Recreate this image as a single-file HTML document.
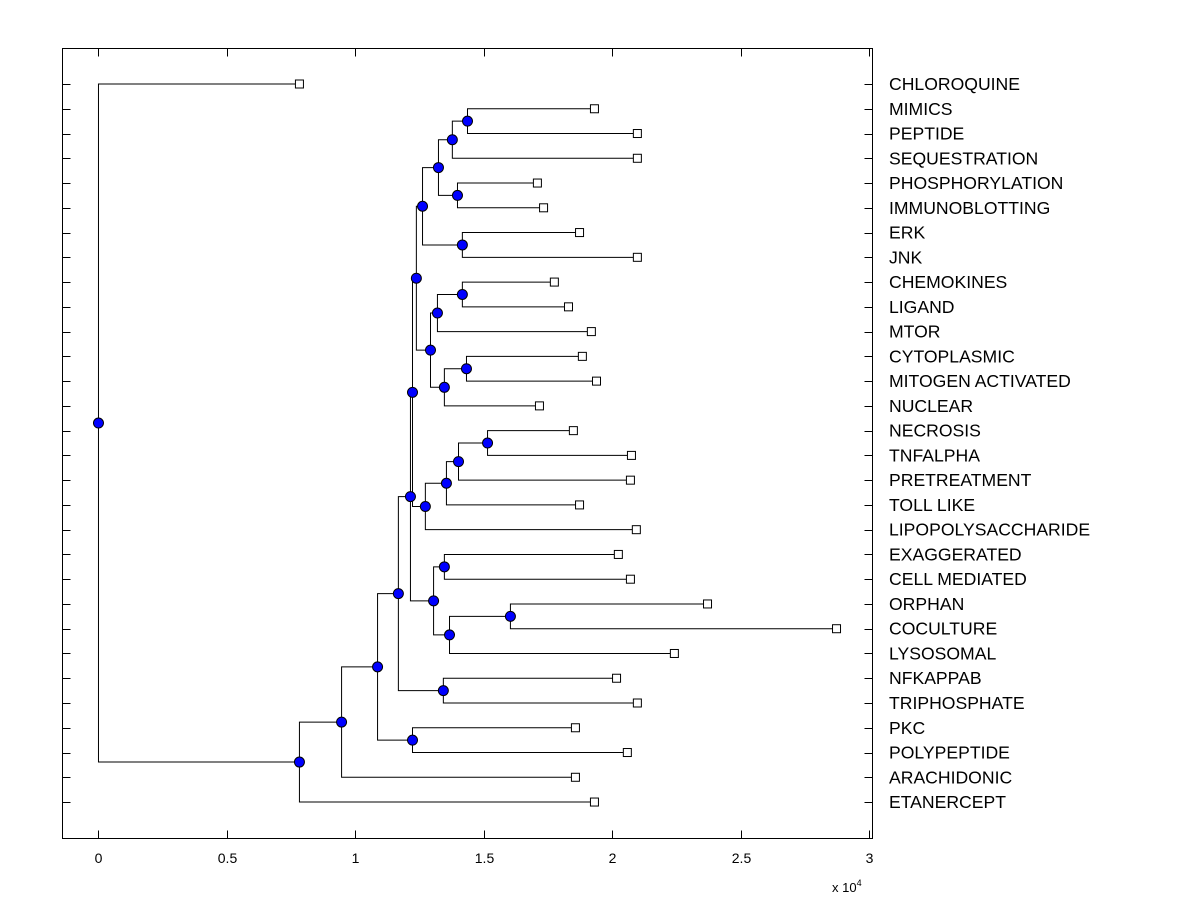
<!DOCTYPE html>
<html><head><meta charset="utf-8">
<style>
html,body{margin:0;padding:0;background:#fff;}
svg{display:block;font-family:"Liberation Sans",Arial,sans-serif;}
</style></head>
<body>
<svg id="chart" width="1200" height="900" viewBox="0 0 1200 900" xmlns="http://www.w3.org/2000/svg">
<rect x="0" y="0" width="1200" height="900" fill="#fff"/>
<g id="ticks"></g>
<g id="tree"></g>
<g id="labels"></g>
<rect x="62.5" y="48.5" width="810" height="790" fill="none" stroke="#000" stroke-width="1"/>
<text x="832" y="892" font-size="13">x 10<tspan dy="-6" font-size="9">4</tspan></text>
</svg>
<script>
const leafNames = ["CHLOROQUINE","MIMICS","PEPTIDE","SEQUESTRATION","PHOSPHORYLATION","IMMUNOBLOTTING","ERK","JNK","CHEMOKINES","LIGAND","MTOR","CYTOPLASMIC","MITOGEN ACTIVATED","NUCLEAR","NECROSIS","TNFALPHA","PRETREATMENT","TOLL LIKE","LIPOPOLYSACCHARIDE","EXAGGERATED","CELL MEDIATED","ORPHAN","COCULTURE","LYSOSOMAL","NFKAPPAB","TRIPHOSPHATE","PKC","POLYPEPTIDE","ARACHIDONIC","ETANERCEPT"];
const leafHeights = [0.782,1.93,2.097,2.097,1.708,1.732,1.872,2.097,1.774,1.829,1.918,1.883,1.938,1.716,1.848,2.074,2.070,1.872,2.093,2.023,2.070,2.370,2.872,2.241,2.016,2.097,1.856,2.058,1.856,1.930];
const nodeNames = ["A","B","C","D","E","F","G","H","I","J","K","L","M","N","O","P","Q","S","T","U","V","R","X","W","Z","Y","AA","AB","ROOT"];
const nodeChildA = ["L1","A","L4","B","L6","D","L8","G","L11","I","H","F","L14","M","N","O","L","L19","L21","T","S","Q","L24","R","L26","W","Y","AA","L0"];
const nodeChildB = ["L2","L3","L5","C","L7","E","L9","L10","L12","L13","J","K","L15","L16","L17","L18","P","L20","L22","L23","U","V","L25","X","L27","Z","L28","L29","AB"];
const nodeHeights = [1.436,1.377,1.397,1.323,1.416,1.261,1.416,1.319,1.432,1.346,1.292,1.237,1.514,1.401,1.354,1.272,1.222,1.346,1.603,1.366,1.304,1.214,1.342,1.167,1.222,1.086,0.946,0.782,0];
const xTicks = [0,0.5,1,1.5,2,2.5,3];
const xTickLabels = ["0","0.5","1","1.5","2","2.5","3"];

const NS="http://www.w3.org/2000/svg";
const X0=62.5,X1=872.5,Y0=48.5,Y1=838.5;
const xMin=-0.14,xMax=3.012;
function xs(v){return X0+(v-xMin)/(xMax-xMin)*(X1-X0);}
function ys(i){return 84+i*24.76;}
function mk(tag,attrs,parent){const e=document.createElementNS(NS,tag);for(const k in attrs)e.setAttribute(k,attrs[k]);parent.appendChild(e);return e;}
const gT=document.getElementById('ticks'),gTree=document.getElementById('tree'),gL=document.getElementById('labels');

xTicks.forEach((t,i)=>{
  const x=Math.round(xs(t))+0.5;
  const a=mk('line',{x1:x,x2:x,y1:Y1,y2:Y1-8,stroke:'#000'},gT);
  
  
  const b=mk('line',{x1:x,x2:x,y1:Y0,y2:Y0+8,stroke:'#000'},gT);
  
  
  const tx=mk('text',{x:x,y:863,'font-size':14,'text-anchor':'middle'},gT);
  tx.textContent=xTickLabels[i];
  
  
});
leafNames.forEach((n,i)=>{
  const y=Math.round(ys(i))+0.5;
  const a=mk('line',{x1:X0,x2:X0+8,y1:y,y2:y,stroke:'#000'},gT);
  
  
  const b=mk('line',{x1:X1-8,x2:X1,y1:y,y2:y,stroke:'#000'},gT);
  
  
  const t=mk('text',{x:889,y:ys(i)+6,'font-size':17.6},gL);
  t.textContent=n;
  
  
});

const pos={};
leafNames.forEach((n,i)=>{pos['L'+i]={h:leafHeights[i],y:ys(i)};});
nodeNames.forEach((n,i)=>{
  const a=pos[nodeChildA[i]],b=pos[nodeChildB[i]],h=nodeHeights[i];
  const y=(a.y+b.y)/2;pos[n]={h:h,y:y};
  const x=xs(h);
  const p=mk('path',{d:`M${xs(a.h)},${a.y}H${x}V${b.y}H${xs(b.h)}`,fill:'none',stroke:'#000','stroke-width':1},gTree);
  
  
});
nodeNames.forEach((n,i)=>{
  const c=mk('circle',{cx:xs(pos[n].h),cy:pos[n].y,r:5,fill:'#0000ff',stroke:'#000','stroke-width':1},gTree);
  
  
});
leafNames.forEach((n,i)=>{
  const r=mk('rect',{x:xs(leafHeights[i])-4,y:ys(i)-4,width:8,height:8,fill:'#fff',stroke:'#000','stroke-width':1},gTree);
  
  
});
</script>
</body></html>
